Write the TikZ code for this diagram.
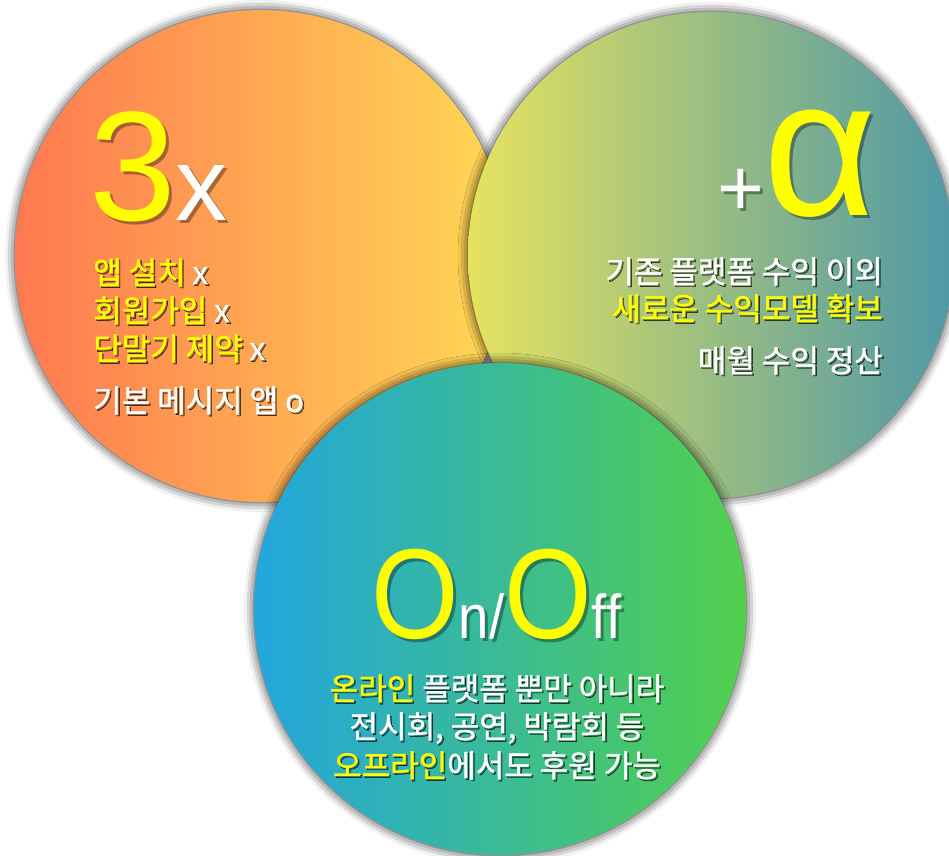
\documentclass[tikz,border=0pt]{standalone}
\usepackage{fontspec}
\setmainfont{Liberation Sans}
\newfontfamily\kr[FakeBold=1.3]{Noto Sans CJK KR}
\newfontfamily\narrow[FakeStretch=0.88]{Liberation Sans}
\usetikzlibrary{shadows.blur}
\definecolor{hl}{HTML}{FFFF00}
\definecolor{appL}{HTML}{FF7850}
\definecolor{appM}{HTML}{FDAA55}
\definecolor{appR}{HTML}{FFD955}
\definecolor{plusL}{HTML}{E5E35E}
\definecolor{plusM}{HTML}{A2C27C}
\definecolor{plusR}{HTML}{4E98A6}
\definecolor{onoffL}{HTML}{22A6DE}
\definecolor{onoffM}{HTML}{2CB7A2}
\definecolor{onoffR}{HTML}{52D04C}

% yellow highlight and soft text shadow
\newcommand\yel[1]{\textcolor{hl}{#1}}
\newcommand\shd[2][1.6pt]{\leavevmode\rlap{\kern#1\raisebox{-#1}{\let\yel\relax\color{black}\pgfsetfillopacity{0.35}#2\pgfsetfillopacity{1}}}#2}

\tikzset{
  bubble/.style={circle, minimum size=492pt, inner sep=0pt,
    blur shadow={shadow xshift=0pt, shadow yshift=0pt,
      shadow blur radius=10pt, shadow opacity=85}},
  line/.style={inner sep=0pt, white, font=\kr\fontsize{31}{36}\selectfont},
  big/.style={inner sep=0pt, white, anchor=base west}
}

\begin{document}
\begin{tikzpicture}[x=1pt, y=-1pt]
    \useasboundingbox (0,0) rectangle (949,855);
    % the three circles
    \node[bubble, left color=appL, middle color=appM, right color=appR] (app) at (261,256) {};
    \node[bubble, minimum size=486pt, left color=plusL, middle color=plusM, right color=plusR] (plus) at (711,255) {};
    \node[bubble, left color=onoffL, middle color=onoffM, right color=onoffR] (onoff) at (500,609) {};

    % left circle
    \node[big] (three) at (89,220) {\shd[3pt]{\yel{\fontsize{156}{156}\selectfont 3}\fontsize{104}{104}\selectfont x}};
    \node[line, anchor=base west] (app1) at (93,284) {\shd{\yel{앱 설치} x}};
    \node[line, anchor=base west] (app2) at (93,322) {\shd{\yel{회원가입} x}};
    \node[line, anchor=base west] (app3) at (93,360) {\shd{\yel{단말기 제약} x}};
    \node[line, anchor=base west] (app4) at (93,412) {\shd{기본 메시지 앱 o}};

    % right circle
    \node[big] (alpha) at (717,215) {\shd[3pt]{\fontsize{80}{80}\selectfont +\yel{\fontsize{196}{196}\selectfont α}}};
    \node[line, anchor=base east] (plus1) at (883,283) {\shd{기존 플랫폼 수익 이외}};
    \node[line, anchor=base east] (plus2) at (883,320) {\shd{\yel{새로운 수익모델 확보}}};
    \node[line, anchor=base east] (plus3) at (883,372) {\shd{매월 수익 정산}};

    % bottom circle
    \node[big, font=\narrow] (onofftitle) at (371,638) {\shd[3pt]{\yel{\fontsize{128}{128}\selectfont O}\fontsize{62}{62}\selectfont n/\yel{\fontsize{128}{128}\selectfont O}\fontsize{62}{62}\selectfont ff}};
    \node[line, anchor=base] (onoff1) at (497,700) {\shd{\yel{온라인} 플랫폼 뿐만 아니라}};
    \node[line, anchor=base] (onoff2) at (497,738) {\shd{전시회, 공연, 박람회 등}};
    \node[line, anchor=base] (onoff3) at (497,777) {\shd{\yel{오프라인}에서도 후원 가능}};
\end{tikzpicture}
\end{document}
